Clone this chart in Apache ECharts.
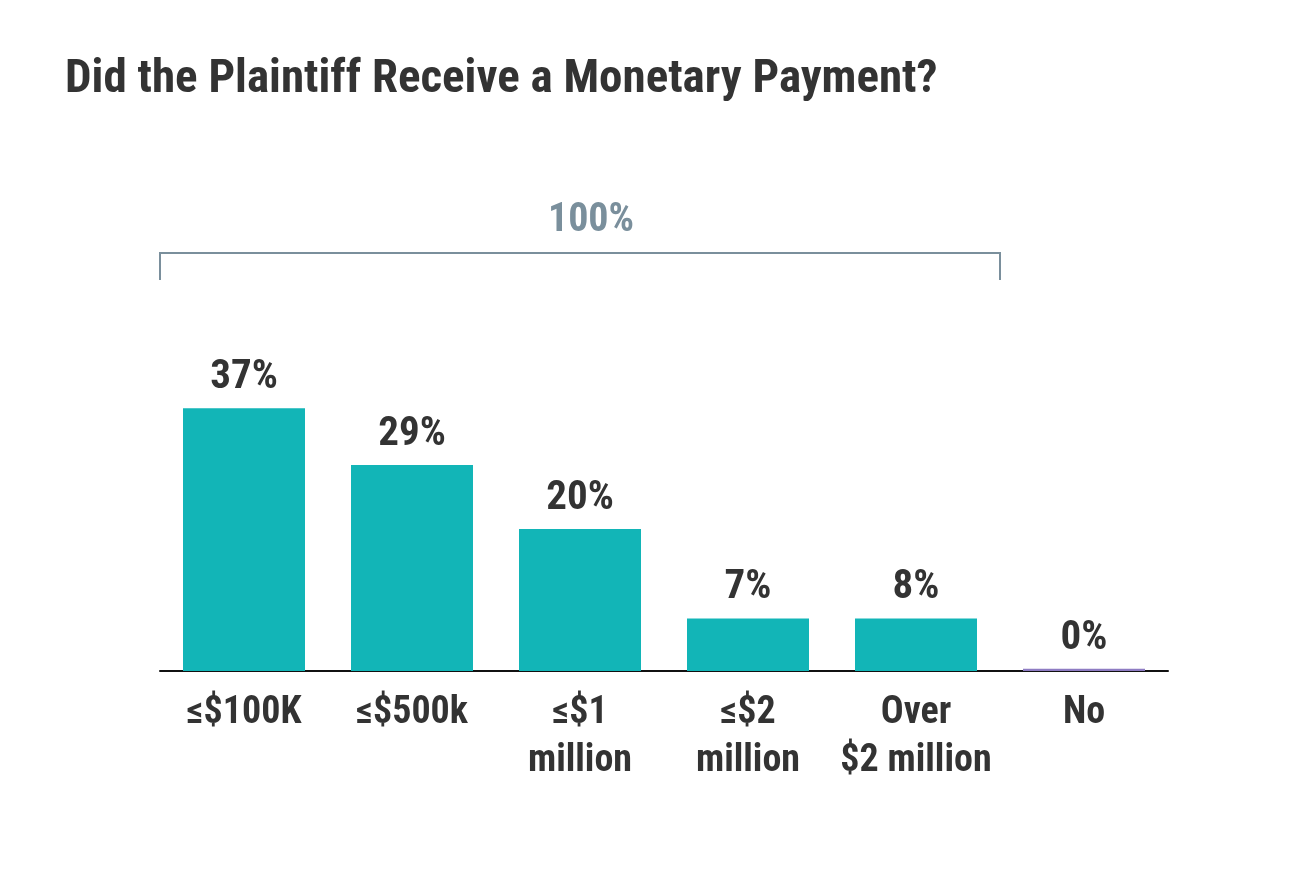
<!DOCTYPE html>
<html><head><meta charset="utf-8">
<script src="https://cdn.jsdelivr.net/npm/echarts@6/dist/echarts.min.js"></script>
<style>html,body{margin:0;padding:0;background:#fff}#c{width:1290px;height:879px}</style>
</head><body><div id="c"></div>
<script>
const categories = ['≤$100K', '≤$500k', '≤$1\nmillion', '≤$2\nmillion', 'Over\n$2 million', 'No'];
const values = [37, 29, 20, 7.4, 7.4, 0.3];
const valueLabels = ['37%', '29%', '20%', '7%', '8%', '0%'];
const FONT = "'Roboto Condensed','Liberation Sans Narrow','Roboto',sans-serif";
const chart = echarts.init(document.getElementById('c'));
chart.setOption({
  animation: false,
  title: { text: 'Did the Plaintiff Receive a Monetary Payment?', left: 60, top: 52,
    textStyle: { fontFamily: FONT, fontWeight: 'bold', fontSize: 47, color: '#333' } },
  grid: { left: 160, right: 122, top: 387, bottom: 208 },
  xAxis: { type: 'category', data: categories,
    axisLine: { lineStyle: { color: '#111', width: 2 } }, axisTick: { show: false },
    axisLabel: { interval: 0, fontFamily: FONT, fontWeight: 'bold', fontSize: 38, color: '#333', lineHeight: 48, margin: 18 } },
  yAxis: { type: 'value', min: 0, max: 40, show: false },
  series: [{ type: 'bar', barWidth: 122,
    data: values.map((v, i) => ({ value: v, itemStyle: { color: i === 5 ? '#8e7cc3' : '#12b5b7' } })),
    label: { show: true, position: 'top', distance: 10, fontFamily: FONT, fontWeight: 'bold', fontSize: 41, color: '#333',
      formatter: p => valueLabels[p.dataIndex] } }],
  graphic: [
    { type: 'polyline', shape: { points: [[160, 280], [160, 253], [1000, 253], [1000, 280]] },
      style: { stroke: '#7a8f9c', lineWidth: 2, fill: null } },
    { type: 'text', x: 591, y: 221, style: { text: '100%', fontFamily: FONT, fontWeight: 'bold', fontSize: 40,
      fill: '#7a8f9c', align: 'center', verticalAlign: 'middle' } }
  ]
});
</script></body></html>
